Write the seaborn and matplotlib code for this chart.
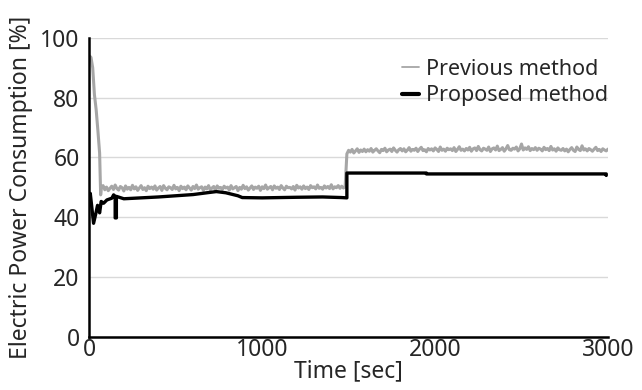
import numpy as np
import pandas as pd
import matplotlib
matplotlib.use("Agg")
import matplotlib.pyplot as plt
import seaborn as sns

# previous method: start-up transient, then 10 s samples
prev_start_t = [0, 10, 20, 30, 40, 50, 60, 66]
prev_start_v = [94.0, 93.5, 90.0, 81.0, 76.0, 69.0, 61.5, 47.5]

prev_low = [  # t = 70 .. 1480
    49.8, 50.6, 49.2, 50.1, 48.9, 49.7, 50.4, 49.3, 50.8, 49.6,
    49.1, 50.3, 49.9, 48.8, 50.5, 49.4, 50.0, 49.2, 50.7, 49.5,
    50.2, 49.0, 49.8, 50.6, 49.3, 49.9, 48.9, 50.4, 49.6, 50.1,
    49.4, 50.5, 49.1, 49.8, 50.3, 49.0, 50.6, 49.7, 49.2, 50.2,
    49.9, 49.3, 50.7, 49.5, 50.0, 48.9, 50.4, 49.6, 50.1, 49.2,
    50.5, 49.8, 49.1, 50.3, 49.6, 50.8, 49.4, 49.9, 50.2, 49.0,
    50.1, 49.5, 50.6, 49.2, 49.8, 50.3, 49.0, 50.5, 49.7, 50.0,
    49.3, 50.4, 49.8, 50.1, 49.1, 50.6, 49.5, 49.9, 50.3, 48.9,
    50.0, 49.4, 50.7, 49.6, 50.2, 49.1, 49.8, 50.5, 49.3, 50.1,
    49.7, 50.4, 49.0, 50.2, 49.6, 50.8, 49.4, 49.9, 50.3, 49.2,
    50.5, 49.7, 50.1, 49.3, 50.6, 49.8, 49.2, 50.4, 49.9, 50.0,
    49.5, 50.3, 49.1, 50.7, 49.8, 50.2, 49.4, 50.5, 49.6, 50.1,
    49.3, 50.6, 49.9, 50.2, 49.5, 50.8, 49.7, 50.0, 49.4, 50.5,
    49.8, 50.3, 49.6, 50.9, 49.5, 50.2, 49.9, 50.6, 49.7, 50.4, 49.8, 50.1,
]

prev_high = [  # t = 1490 .. 3000
    61.2, 62.4, 61.8, 62.7, 61.5, 62.2, 62.9, 61.7, 62.5, 62.0,
    62.8, 61.9, 62.6, 62.1, 63.0, 61.8, 62.4, 62.9, 62.2, 61.6,
    62.7, 62.3, 63.1, 61.9, 62.5, 62.8, 62.0, 63.2, 62.4, 61.8,
    62.6, 63.0, 62.2, 62.9, 61.9, 62.5, 63.3, 62.1, 62.7, 62.4,
    63.1, 62.0, 62.8, 63.4, 62.3, 62.6, 61.9, 63.0, 62.5, 62.9,
    62.2, 63.2, 62.7, 62.0, 63.5, 62.4, 62.8, 62.1, 63.1, 62.6,
    62.9, 62.3, 63.3, 62.0, 62.7, 63.6, 62.4, 62.8, 62.2, 63.0,
    62.5, 63.4, 62.1, 62.9, 63.2, 62.3, 63.7, 62.6, 62.2, 63.1,
    62.8, 62.4, 63.5, 62.0, 62.9, 63.2, 62.5, 63.8, 62.3, 62.7,
    63.3, 62.1, 62.9, 64.0, 62.6, 62.4, 63.1, 62.8, 63.5, 62.2,
    62.9, 64.5, 62.5, 63.2, 62.7, 63.6, 62.3, 63.0, 62.6, 63.3,
    62.4, 63.1, 62.8, 62.2, 63.4, 62.6, 63.0, 62.3, 63.7, 62.5,
    62.9, 62.1, 63.2, 62.6, 62.4, 63.0, 62.2, 62.8, 61.9, 62.7,
    63.3, 62.4, 62.0, 63.5, 62.7, 62.3, 63.9, 62.5, 62.9, 62.2,
    63.0, 62.6, 62.1, 62.8, 63.4, 62.3, 62.7, 62.0, 62.9, 62.5,
    62.2, 62.8,
]

# proposed method: breakpoints (repeated times give the vertical steps)
prop_t = [0, 6, 25, 39, 48, 60, 69, 83, 102, 131, 141, 150, 150, 157, 157,
          200, 300, 400, 500, 600, 680, 735, 790, 860, 885, 1000, 1200,
          1350, 1460, 1490, 1490, 1950, 1950, 2990, 2990]
prop_v = [47.0, 48.0, 38.0, 41.5, 44.0, 41.5, 45.3, 44.7, 45.8, 46.4, 47.5,
          47.0, 39.8, 39.8, 47.0, 46.2, 46.5, 46.8, 47.2, 47.6, 48.2, 48.6,
          48.2, 47.2, 46.6, 46.5, 46.7, 46.8, 46.6, 46.5, 54.8, 54.8, 54.5,
          54.5, 54.0]

prev_t = prev_start_t + list(range(70, 1481, 10)) + list(range(1490, 3001, 10))
prev_v = prev_start_v + prev_low + prev_high
df_prev = pd.DataFrame({"t": prev_t, "v": prev_v})
df_prop = pd.DataFrame({"t": prop_t, "v": prop_v})

sns.set_style("white")
plt.rcParams['font.family'] = ['Noto Sans', 'DejaVu Sans']

fig = plt.figure(figsize=(6.42, 3.9), dpi=100)
ax = fig.add_axes([0.139, 0.136, 0.808, 0.767])

ax.yaxis.grid(True, color='#d9d9d9', linewidth=1.0)
ax.set_axisbelow(True)

sns.lineplot(data=df_prev, x="t", y="v", ax=ax, color='#a6a6a6', linewidth=2.2,
             estimator=None, sort=False, label='Previous method')
sns.lineplot(data=df_prop, x="t", y="v", ax=ax, color='black', linewidth=2.4,
             estimator=None, sort=False, label='Proposed method')

ax.set_xlim(0, 3000)
ax.set_ylim(0, 100)
ax.set_xticks([0, 1000, 2000, 3000])
ax.set_yticks([0, 20, 40, 60, 80, 100])
ax.tick_params(axis='x', direction='in', length=6, width=2, labelsize=16.5, pad=1)
ax.tick_params(axis='y', length=0, labelsize=16.5, pad=7)
ax.set_xlabel('Time [sec]', fontsize=16.5, labelpad=-2)
ax.set_ylabel('Electric Power Consumption [%]', fontsize=16.5, labelpad=5)

for s in ['top', 'right']:
    ax.spines[s].set_visible(False)
for s in ['left', 'bottom']:
    ax.spines[s].set_color('black')
    ax.spines[s].set_linewidth(1.8)

leg = ax.legend(loc='upper right', bbox_to_anchor=(1.037, 0.995), frameon=False,
                fontsize=15.5, handlelength=0.8, handletextpad=0.3, labelspacing=0.25)
leg.get_lines()[0].set_linewidth(1.3)
leg.get_lines()[1].set_linewidth(3.0)

fig.savefig('out.png', dpi=100)
